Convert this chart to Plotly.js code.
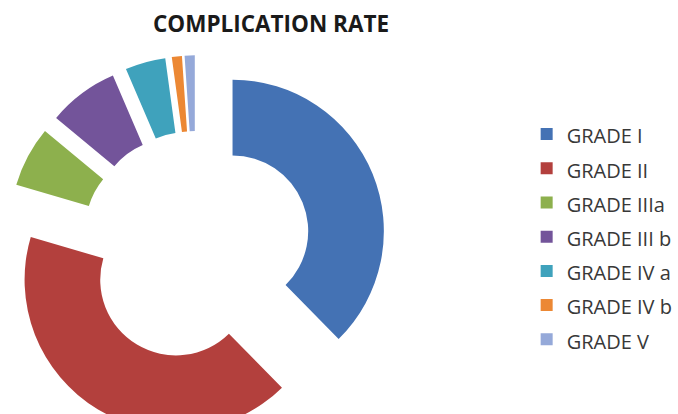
<!DOCTYPE html>
<html>
<head>
<meta charset="utf-8">
<script src="https://cdn.plot.ly/plotly-3.0.1.min.js"></script>
<style>
  html, body { margin: 0; padding: 0; overflow: hidden; background: #fff; }
  #chart { width: 678px; height: 440px; }
</style>
</head>
<body>
<div id="chart"></div>
<script>
const categories = ["GRADE I", "GRADE II", "GRADE IIIa", "GRADE III b", "GRADE IV a", "GRADE IV b", "GRADE V"];
const values = [35, 39, 6, 7, 4, 1, 1];
const colors = ["#4472B4", "#B3403D", "#8DB04D", "#73549A", "#3FA2BC", "#EC8834", "#95A9D9"];
const chartTitle = "COMPLICATION RATE";

const W = 678, H = 440;

const trace = {
  type: "pie",
  labels: categories.map(c => '<span style="font-size:20px">' + c + '</span>'),
  values: values,
  sort: false,
  direction: "clockwise",
  rotation: 0,
  hole: 0.5,
  pull: 0.26,
  textinfo: "none",
  hovertext: categories,
  hoverinfo: "text+value+percent",
  marker: { colors: colors, line: { width: 0 } },
  domain: { x: [5.5 / W, 388.5 / W], y: [1 - 437.5 / H, 1 - 54.5 / H] }
};

const layout = {
  width: W,
  height: H,
  margin: { l: 0, r: 0, t: 0, b: 0 },
  paper_bgcolor: "#ffffff",
  title: {
    text: chartTitle,
    x: 271 / W,
    xanchor: "center",
    xref: "container",
    y: 1 - 24 / H,
    yanchor: "middle",
    yref: "container",
    font: { family: "Open Sans", size: 22.5, weight: "bold", color: "#1a1a1a" }
  },
  showlegend: true,
  legend: {
    x: 529 / W,
    xanchor: "left",
    y: 1 - 112 / H,
    yanchor: "top",
    font: { family: "Open Sans", size: 24, color: "#383838" },
    bgcolor: "rgba(0,0,0,0)",
    borderwidth: 0
  }
};

Plotly.newPlot("chart", [trace], layout, { displayModeBar: false, staticPlot: true });
</script>
</body>
</html>
